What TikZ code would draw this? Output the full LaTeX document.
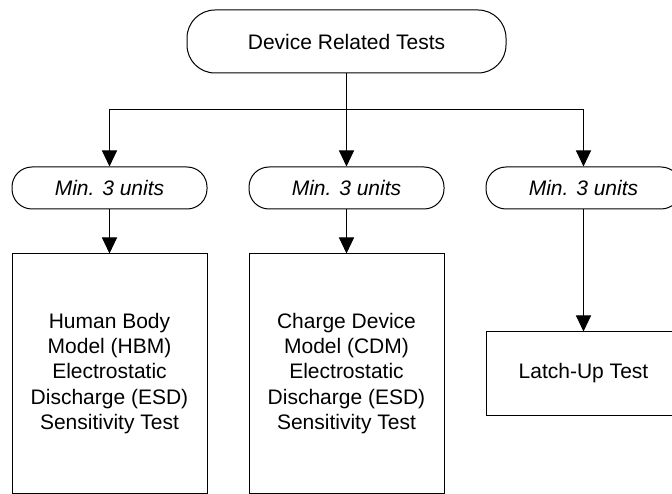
\documentclass[tikz,border=0pt]{standalone}
\usepackage{fontspec}
\setmainfont{Liberation Sans}
\usetikzlibrary{arrows.meta}

\begin{document}
\begin{tikzpicture}[x=1pt, y=-1pt, line width=1pt,
  topnode/.style={draw, rounded corners=28pt, minimum width=319pt, minimum height=63pt, font=\fontsize{21}{25}\selectfont},
  unitnode/.style={draw, rounded corners=20pt, minimum width=195pt, minimum height=42pt, font=\fontsize{21}{25}\selectfont\itshape},
  testbox/.style={draw, minimum width=195pt, align=center, font=\fontsize{21}{25.4}\selectfont},
  arr/.style={-{Triangle[length=16pt, width=15pt]}}]
\useasboundingbox (0, 0) rectangle (672, 494);

\node[topnode] (dev) at (346.5, 41.5) {Device Related Tests};
\coordinate (split) at (346.5, 110);

\node[unitnode] (u1) at (109.5, 188) {Min. 3 units};
\node[unitnode] (u2) at (346.5, 188) {Min. 3 units};
\node[unitnode] (u3) at (583.5, 188) {Min. 3 units};

\node[testbox, minimum height=239pt] (hbm) at (109.5, 373.5) {Human Body\\Model (HBM)\\Electrostatic\\Discharge (ESD)\\Sensitivity Test};
\node[testbox, minimum height=239pt] (cdm) at (346.5, 373.5) {Charge Device\\Model (CDM)\\Electrostatic\\Discharge (ESD)\\Sensitivity Test};
\node[testbox, minimum height=83pt] (lu) at (583.5, 373.5) {Latch-Up Test};

\draw (dev) -- (split);
\draw[arr] (split) -| (u1);
\draw[arr] (split) -- (u2);
\draw[arr] (split) -| (u3);

\draw[arr] (u1) -- (hbm);
\draw[arr] (u2) -- (cdm);
\draw[arr] (u3) -- (lu);

\end{tikzpicture}
\end{document}
